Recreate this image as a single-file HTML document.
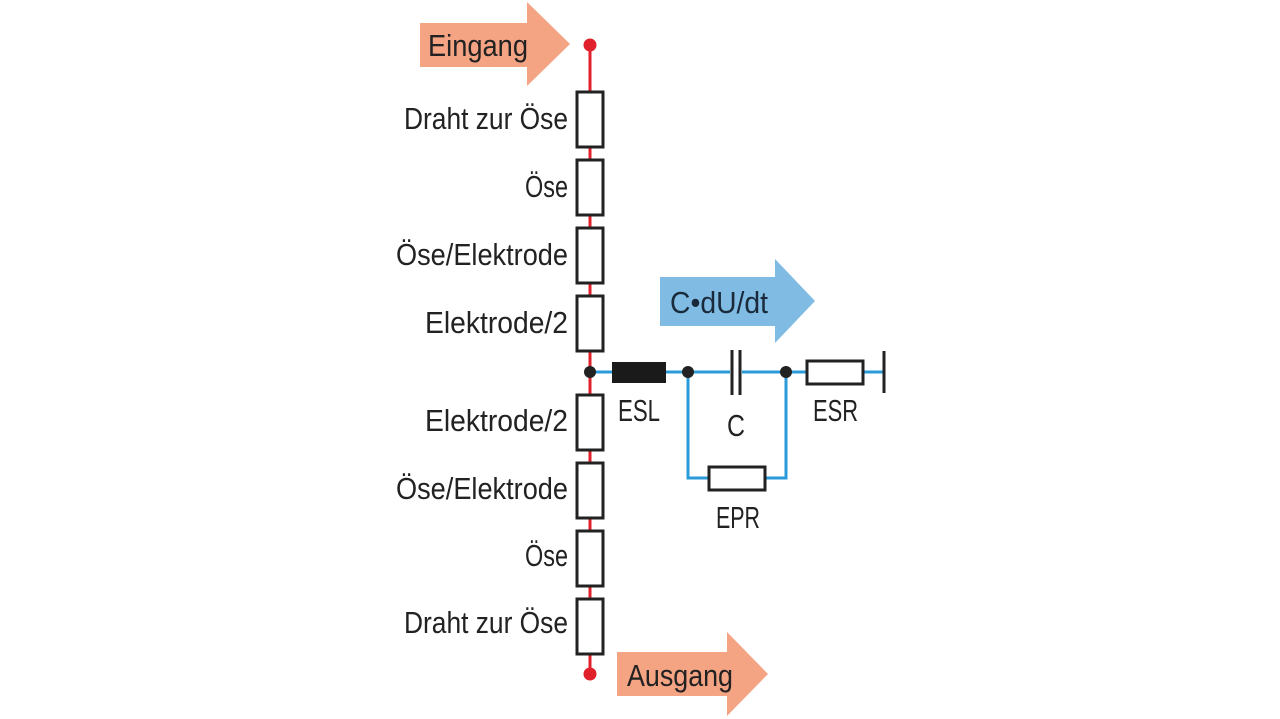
<!DOCTYPE html>
<html><head><meta charset="utf-8"><style>html,body{margin:0;padding:0;background:#fff}svg{display:block}</style></head>
<body>
<svg width="1280" height="719" viewBox="0 0 1280 719" xmlns="http://www.w3.org/2000/svg" font-family="Liberation Sans, sans-serif" font-size="31" fill="#222">
<polygon points="420,23 527,23 527,2 570,44 527,86 527,67 420,67" fill="#f4a383"/>
<polygon points="617,652 727,652 727,632 768,674 727,716 727,696 617,696" fill="#f4a383"/>
<polygon points="660,277 775,277 775,259 815,301 775,343 775,326 660,326" fill="#7fbbe3"/>
<line x1="590" y1="45" x2="590" y2="674" stroke="#e0202a" stroke-width="3"/>
<circle cx="590" cy="45" r="6.5" fill="#e0202a"/>
<circle cx="590" cy="674" r="6.5" fill="#e0202a"/>
<g fill="#fff" stroke="#222" stroke-width="3">
<rect x="577" y="92" width="26" height="55"/>
<rect x="577" y="160" width="26" height="55"/>
<rect x="577" y="228" width="26" height="55"/>
<rect x="577" y="296" width="26" height="55"/>
<rect x="577" y="395" width="26" height="55"/>
<rect x="577" y="463" width="26" height="55"/>
<rect x="577" y="531" width="26" height="55"/>
<rect x="577" y="599" width="26" height="55"/>
</g>
<g stroke="#2a9ad8" stroke-width="3" fill="none">
<line x1="590" y1="372" x2="884" y2="372"/>
<polyline points="688,372 688,478 786,478 786,372"/>
</g>
<rect x="612" y="362" width="54" height="21" fill="#1a1a1a"/>
<rect x="730" y="352" width="12" height="40" fill="#fff"/>
<line x1="732" y1="350" x2="732" y2="395" stroke="#222" stroke-width="3"/>
<line x1="740" y1="350" x2="740" y2="395" stroke="#222" stroke-width="3"/>
<rect x="807" y="361" width="56" height="23" fill="#fff" stroke="#222" stroke-width="3"/>
<rect x="709" y="467" width="56" height="23" fill="#fff" stroke="#222" stroke-width="3"/>
<line x1="884" y1="351" x2="884" y2="393" stroke="#222" stroke-width="3"/>
<circle cx="590" cy="372" r="6" fill="#222"/>
<circle cx="688" cy="372" r="6" fill="#222"/>
<circle cx="786" cy="372" r="6" fill="#222"/>
<g>
<text x="404" y="129" textLength="164" lengthAdjust="spacingAndGlyphs">Draht zur Öse</text>
<text x="525" y="197" textLength="43" lengthAdjust="spacingAndGlyphs">Öse</text>
<text x="396" y="265" textLength="172" lengthAdjust="spacingAndGlyphs">Öse/Elektrode</text>
<text x="425" y="333" textLength="143" lengthAdjust="spacingAndGlyphs">Elektrode/2</text>
<text x="425" y="431" textLength="143" lengthAdjust="spacingAndGlyphs">Elektrode/2</text>
<text x="396" y="499" textLength="172" lengthAdjust="spacingAndGlyphs">Öse/Elektrode</text>
<text x="525" y="566" textLength="43" lengthAdjust="spacingAndGlyphs">Öse</text>
<text x="404" y="633" textLength="164" lengthAdjust="spacingAndGlyphs">Draht zur Öse</text>
<text x="428" y="56" textLength="100" lengthAdjust="spacingAndGlyphs">Eingang</text>
<text x="627" y="686" textLength="106" lengthAdjust="spacingAndGlyphs">Ausgang</text>
<text x="670" y="313" textLength="98" lengthAdjust="spacingAndGlyphs" fill="#1a2a3a">C•dU/dt</text>
<text x="618" y="421" textLength="42" lengthAdjust="spacingAndGlyphs">ESL</text>
<text x="727" y="436" textLength="18" lengthAdjust="spacingAndGlyphs">C</text>
<text x="813" y="421" textLength="45" lengthAdjust="spacingAndGlyphs">ESR</text>
<text x="716" y="528" textLength="44" lengthAdjust="spacingAndGlyphs">EPR</text>
</g>
</svg>
</body></html>
